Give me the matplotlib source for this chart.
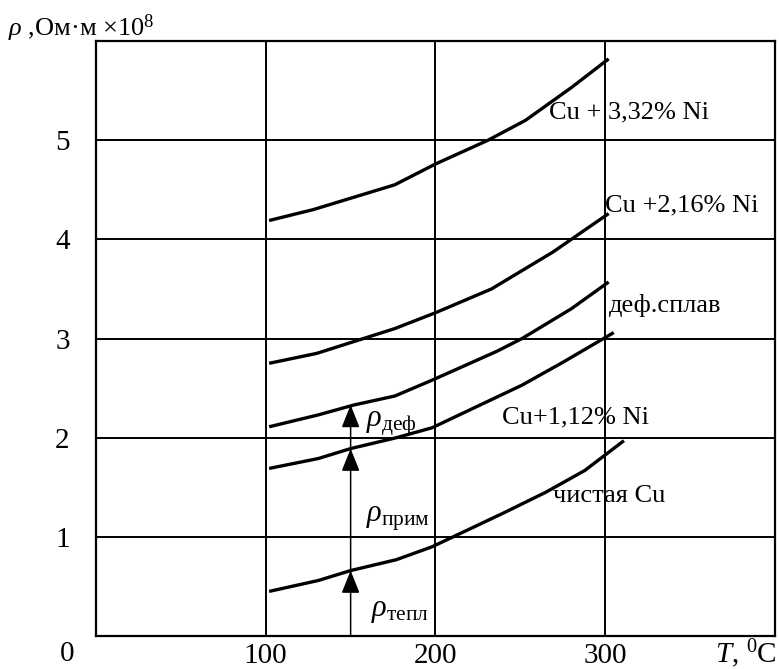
import matplotlib
matplotlib.use("Agg")
import matplotlib.pyplot as plt

plt.rcParams["font.family"] = ["Liberation Serif", "DejaVu Serif"]
plt.rcParams["mathtext.fontset"] = "custom"
plt.rcParams["mathtext.rm"] = "Liberation Serif"
plt.rcParams["mathtext.it"] = "Liberation Serif:italic"

# curves: temperature (deg C) -> resistivity (Ohm*m x 10^8)
t_ni332 = [102, 128, 176, 200, 231, 253, 280, 302]
r_ni332 = [4.19, 4.30, 4.55, 4.76, 5.00, 5.20, 5.53, 5.82]

t_ni216 = [102, 130, 176, 200, 233, 269, 280, 302]
r_ni216 = [2.75, 2.85, 3.10, 3.26, 3.50, 3.87, 4.00, 4.26]

t_def = [102, 131, 152, 176, 198, 236, 251, 280, 302]
r_def = [2.11, 2.23, 2.33, 2.42, 2.58, 2.87, 3.00, 3.30, 3.57]

t_ni112 = [102, 131, 150, 177, 198, 251, 275, 299, 305]
r_ni112 = [1.69, 1.79, 1.89, 2.00, 2.10, 2.53, 2.76, 3.00, 3.06]

t_cu = [102, 131, 150, 177, 198, 240, 265, 288, 311]
r_cu = [0.45, 0.56, 0.66, 0.77, 0.90, 1.24, 1.45, 1.67, 1.97]

# vertical arrows at T = 150: base, pure Cu, Cu+1.12% Ni, deformed alloy
arrow_t = 150
arrow_levels = [0.0, 0.66, 1.89, 2.33]

x_ticks = [100, 200, 300]
y_ticks = [1, 2, 3, 4, 5]

fig = plt.figure(figsize=(7.79, 6.69), dpi=100)
ax = fig.add_axes([0.1232, 0.0493, 0.8717, 0.8894])
ax.set_xlim(0, 400)
ax.set_ylim(0, 6)

ax.set_xticks(x_ticks)
ax.set_yticks(y_ticks)
ax.tick_params(length=0, labelsize=21)
ax.tick_params(axis="x", pad=5)
ax.tick_params(axis="y", pad=19)
ax.grid(True, color="black", lw=1.4)
for s in ax.spines.values():
    s.set_linewidth(1.6)

for t, r in [(t_ni332, r_ni332), (t_ni216, r_ni216), (t_def, r_def),
             (t_ni112, r_ni112), (t_cu, r_cu)]:
    ax.plot(t, r, color="black", lw=2.4, solid_capstyle="butt")

for lo, hi in zip(arrow_levels[:-1], arrow_levels[1:]):
    ax.annotate("", xy=(arrow_t, hi), xytext=(arrow_t, lo),
                arrowprops=dict(arrowstyle="-|>,head_length=0.7,head_width=0.28",
                                color="black", lw=1.1, shrinkA=0, shrinkB=0,
                                mutation_scale=20))

fs = 19
ax.text(267, 5.28, "Cu + 3,32% Ni", fontsize=fs, va="center")
ax.text(300, 4.34, "Cu +2,16% Ni", fontsize=fs, va="center")
ax.text(302, 3.33, "деф.сплав", fontsize=fs, va="center")
ax.text(239, 2.20, "Cu+1,12% Ni", fontsize=fs, va="center")
ax.text(269, 1.41, "чистая Cu", fontsize=fs, va="center")

ax.text(162, 0.26, r"$\rho_{\mathrm{тепл}}$", fontsize=22, va="center")
ax.text(159, 1.19, r"$\rho_{\mathrm{прим}}$", fontsize=22, va="center")
ax.text(159, 2.14, r"$\rho_{\mathrm{деф}}$", fontsize=22, va="center")

fig.text(8 / 779, 1 - 28 / 669, r"$\rho$ ,Ом·м $\times$10$^8$", fontsize=19, va="center")
fig.text(60 / 779, 1 - 654 / 669, "0", fontsize=21, va="center")
fig.text(777 / 779, 1 - 654 / 669, r"$T$, $^0$C", fontsize=21, va="center", ha="right")

fig.savefig("out.png", dpi=100)
